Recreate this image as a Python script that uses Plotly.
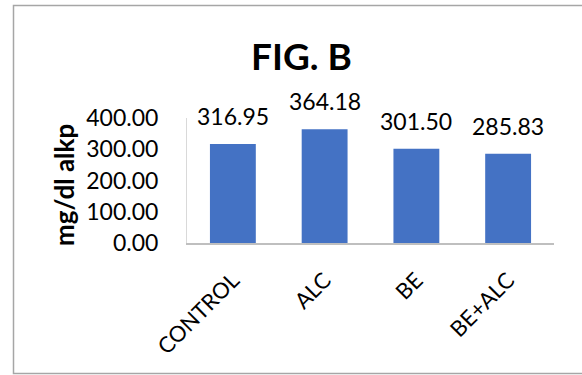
import plotly.graph_objects as go

# ALKP level per treatment group
groups = ["CONTROL", "ALC", "BE", "BE+ALC"]
alkp = [316.95, 364.18, 301.50, 285.83]
y_ticks = [0, 100, 200, 300, 400]
y_tick_text = [f"{v:.2f}" for v in y_ticks]

W, H = 582, 375
L, R, T, B = 187, 28, 118, 132
pw, ph = W - L - R, H - T - B


def px_x(px):
    return (px - L) / pw


def px_y(py):
    return (H - B - py) / ph


FONT = "Lato"
BAR = "#4472C4"

fig = go.Figure()
fig.add_trace(go.Bar(x=groups, y=alkp, marker_color=BAR, width=0.5,
                     marker_line_width=0))

annotations = []
for g, v in zip(groups, alkp):
    annotations.append(dict(x=g, y=v, xref="x", yref="y", text=f"{v:.2f}",
                            showarrow=False, yanchor="bottom", yshift=12,
                            font=dict(family=FONT, size=23, color="#000")))

annotations.append(dict(x=px_x(301), y=px_y(55), xref="paper", yref="paper",
                        text="<b>FIG. B</b>", showarrow=False,
                        xanchor="center", yanchor="middle",
                        font=dict(family=FONT, size=37, color="#000")))
annotations.append(dict(x=px_x(64), y=px_y(185), xref="paper", yref="paper",
                        text="<b>mg/dl alkp</b>", showarrow=False, textangle=-90,
                        xanchor="center", yanchor="middle",
                        font=dict(family=FONT, size=26, color="#000")))

fig.update_layout(
    width=W, height=H,
    margin=dict(l=L, r=R, t=T, b=B, pad=0),
    paper_bgcolor="white", plot_bgcolor="white",
    showlegend=False,
    annotations=annotations,
    shapes=[dict(type="rect", xref="paper", yref="paper",
                 x0=px_x(13.5), x1=px_x(600), y0=px_y(373.5), y1=px_y(5.5),
                 line=dict(color="#a6a6a6", width=1.5), layer="below")],
    xaxis=dict(showgrid=False, showline=True, linecolor="#bfbfbf", linewidth=1.5,
               ticks="", tickangle=-45, ticklabelstandoff=14,
               tickfont=dict(family=FONT, size=22, color="#000")),
    yaxis=dict(range=[0, 400], showgrid=False, showline=True,
               linecolor="#d9d9d9", linewidth=1, ticks="",
               tickvals=y_ticks, ticktext=y_tick_text, ticklabelstandoff=23,
               tickfont=dict(family=FONT, size=23, color="#000"),
               zeroline=False),
)

fig.write_html("out.html")
